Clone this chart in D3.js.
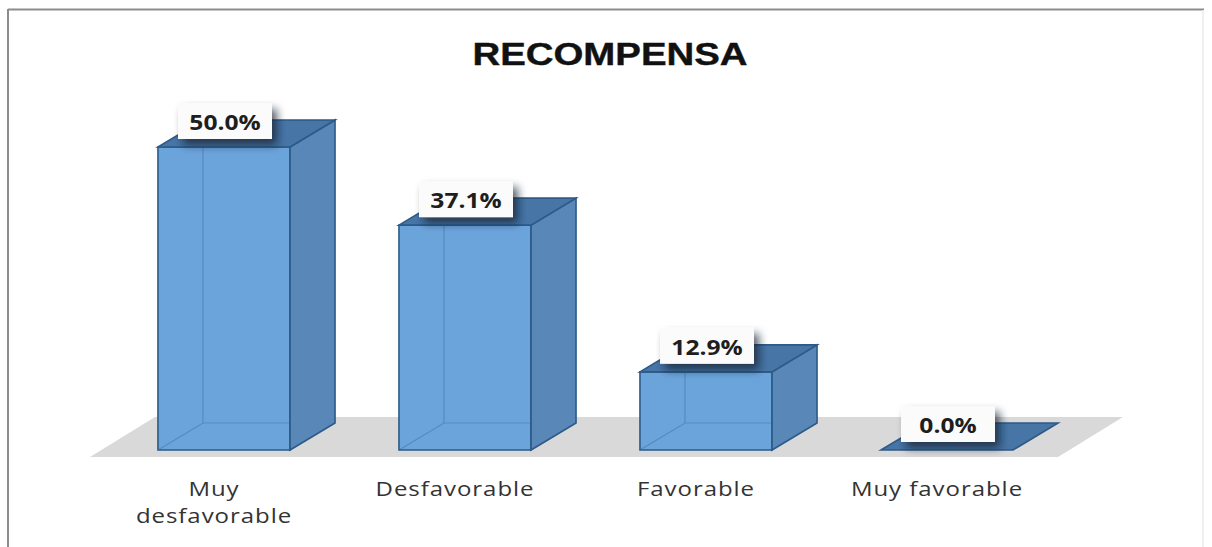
<!DOCTYPE html>
<html>
<head>
<meta charset="utf-8">
<script src="https://cdn.jsdelivr.net/npm/d3@7"></script>
<style>
  html, body { margin: 0; padding: 0; background: #ffffff; }
  svg { display: block; }
</style>
</head>
<body>
<svg id="chart" width="1212" height="547"></svg>
<script>
// Survey results: perception of "Recompensa"
const categories = ["Muy desfavorable", "Desfavorable", "Favorable", "Muy favorable"];
const values = [50.0, 37.1, 12.9, 0.0];
const valueLabels = ["50.0%", "37.1%", "12.9%", "0.0%"];
const chartTitle = "RECOMPENSA";

const W = 1212, H = 547;
const svg = d3.select("#chart");

// 3D depth offset for the bars and floor
const depth = { dx: 45, dy: -27 };
const stretch = 1.2; // horizontal text stretch

const x = d3.scaleBand()
  .domain(categories)
  .range([103.5, 1067.5])
  .paddingInner(0.452)
  .paddingOuter(0.226);

const y = d3.scaleLinear()
  .domain([0, 50])
  .range([450, 147]);

const defs = svg.append("defs");
const shadow = defs.append("filter").attr("id", "labelShadow")
  .attr("x", "-30%").attr("y", "-30%").attr("width", "180%").attr("height", "200%");
shadow.append("feDropShadow")
  .attr("dx", 5).attr("dy", 6).attr("stdDeviation", 4.5)
  .attr("flood-color", "#0a1a2a").attr("flood-opacity", 0.7);

// Chart frame
svg.append("rect").attr("x", 0).attr("y", 0).attr("width", W).attr("height", H).attr("fill", "#fff");
svg.append("line").attr("x1", 8).attr("y1", 9.5).attr("x2", 1204).attr("y2", 9.5)
  .attr("stroke", "#8c8c8c").attr("stroke-width", 2);
svg.append("line").attr("x1", 8).attr("y1", 9).attr("x2", 8).attr("y2", H)
  .attr("stroke", "#8c8c8c").attr("stroke-width", 2);
svg.append("line").attr("x1", 1203).attr("y1", 10).attr("x2", 1203).attr("y2", H)
  .attr("stroke", "#ebebeb").attr("stroke-width", 1.5);

// Title
svg.append("text")
  .attr("transform", `translate(610,65) scale(${stretch},1)`)
  .attr("text-anchor", "middle")
  .attr("font-family", "'Liberation Sans', Arial, sans-serif")
  .attr("font-weight", "bold")
  .attr("font-size", 32)
  .attr("fill", "#111")
  .attr("stroke", "#111").attr("stroke-width", 0.4)
  .text(chartTitle);

// Floor
const y0 = y(0);
const floorFront = y0 + 7, floorBack = y0 - 33;
const floorPts = [
  [90, floorFront], [1058, floorFront], [1123, floorBack], [155, floorBack]
];
svg.append("polygon")
  .attr("points", floorPts.map(p => p.join(",")).join(" "))
  .attr("fill", "#d9d9d9");

// Bars
const edge = "#2d5a86";
const bars = svg.append("g").selectAll("g.bar")
  .data(categories.map((c, i) => ({ c, v: values[i], label: valueLabels[i] })))
  .join("g").attr("class", "bar");

bars.each(function(d) {
  const g = d3.select(this);
  const x0 = x(d.c), x1 = x(d.c) + x.bandwidth();
  const yt = y(d.v), yb = y(0);
  const { dx, dy } = depth;
  const poly = pts => pts.map(p => p.join(",")).join(" ");

  if (d.v > 0) {
    // front face
    g.append("polygon")
      .attr("points", poly([[x0, yt], [x1, yt], [x1, yb], [x0, yb]]))
      .attr("fill", "#6ba4db").attr("stroke", edge).attr("stroke-width", 1.6);
    // hidden back edges seen through the translucent face
    g.append("path")
      .attr("d", `M${x0},${yb} L${x0 + dx},${yb + dy} L${x1 + dx},${yb + dy} M${x0 + dx},${yb + dy} L${x0 + dx},${yt + dy}`)
      .attr("fill", "none").attr("stroke", "#3b6a99").attr("stroke-opacity", 0.45).attr("stroke-width", 1.2);
    // side face
    g.append("polygon")
      .attr("points", poly([[x1, yt], [x1 + dx, yt + dy], [x1 + dx, yb + dy], [x1, yb]]))
      .attr("fill", "#5987b7").attr("stroke", edge).attr("stroke-width", 1.6);
  }
  // top face
  g.append("polygon")
    .attr("points", poly([[x0, yt], [x1, yt], [x1 + dx, yt + dy], [x0 + dx, yt + dy]]))
    .attr("fill", "#4775a6")
    .attr("stroke", edge).attr("stroke-width", 1.6);
});

// Value labels
bars.each(function(d) {
  const g = d3.select(this);
  const cx = x(d.c) + x.bandwidth() / 2 + 1;
  const yt = y(d.v);
  g.append("rect")
    .attr("x", cx - 47).attr("y", yt - 44)
    .attr("width", 94).attr("height", 36)
    .attr("fill", "#fbfbfb")
    .attr("filter", "url(#labelShadow)");
  g.append("text")
    .attr("transform", `translate(${cx},${yt - 17}) scale(${stretch},1)`)
    .attr("text-anchor", "middle")
    .attr("font-family", "'Open Sans', sans-serif")
    .attr("font-weight", "bold")
    .attr("font-size", 20.5)
    .attr("fill", "#1e1e1e")
    .text(d.label);
});

// Category axis
const axis = d3.axisBottom(x).tickSize(0).tickPadding(0);
const axisG = svg.append("g")
  .attr("transform", `translate(-10,496)`)
  .call(axis);
axisG.select(".domain").remove();
axisG.selectAll(".tick text").each(function(c) {
  const t = d3.select(this);
  t.text(null)
    .attr("y", 0).attr("dy", null)
    .attr("transform", `scale(${stretch},1)`)
    .attr("font-family", "'Open Sans', sans-serif")
    .attr("font-size", 20)
    .attr("letter-spacing", "0.8px")
    .attr("fill", "#333");
  const lines = c.length > 14 ? [c.slice(0, c.indexOf(" ")), c.slice(c.indexOf(" ") + 1)] : [c];
  lines.forEach((ln, i) => {
    t.append("tspan").attr("x", 0).attr("dy", i === 0 ? 0 : 27).text(ln);
  });
});
</script>
</body>
</html>
